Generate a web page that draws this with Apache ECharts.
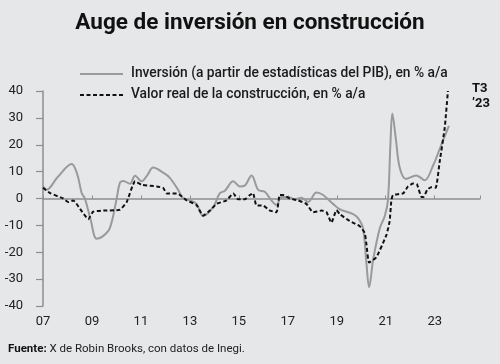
<!DOCTYPE html>
<html>
<head>
<meta charset="utf-8">
<script src="https://cdn.jsdelivr.net/npm/echarts@6/dist/echarts.min.js"></script>
<style>
html,body{margin:0;padding:0;background:#e6e7e9;}
#c{width:500px;height:364px;}
</style>
</head>
<body>
<div id="c"></div>
<script>
// Inversión (a partir de estadísticas del PIB), % a/a
const invYears = [2007.0,2007.15,2007.6,2008.17,2008.4,2008.58,2008.71,2008.95,2009.19,2009.45,2009.73,2010.01,2010.14,2010.28,2010.55,2010.76,2011.03,2011.25,2011.5,2011.91,2012.18,2012.52,2012.73,2013.0,2013.27,2013.54,2013.95,2014.22,2014.43,2014.77,2015.04,2015.24,2015.52,2015.79,2016.06,2016.33,2016.54,2016.74,2017.01,2017.29,2017.56,2017.83,2018.17,2018.44,2018.85,2019.12,2019.67,2019.87,2020.07,2020.21,2020.32,2020.49,2020.76,2020.96,2021.09,2021.19,2021.27,2021.41,2021.57,2021.82,2022.25,2022.59,2022.93,2023.27,2023.58];
const invValues = [4.5,3.3,8.0,12.8,9.0,2.0,0.0,-8.0,-15.0,-14.0,-11.0,0.0,5.8,6.5,5.5,8.5,6.4,8.5,11.5,9.6,7.7,3.2,0.0,-0.7,-2.0,-6.4,-3.2,1.9,2.9,6.4,4.5,4.8,8.6,3.2,2.5,-0.7,-2.4,0.6,0.6,-0.3,0.3,-1.3,2.2,1.3,-2.0,-4.0,-5.8,-7.3,-11.0,-24.0,-33.0,-22.5,-11.0,-6.5,-0.6,20.0,31.6,22.4,11.5,7.3,8.6,6.8,12.2,20.0,27.0];

// Valor real de la construcción, % a/a
const conYears = [2007.0,2007.29,2007.83,2008.03,2008.24,2008.51,2008.85,2009.05,2009.46,2010.14,2010.42,2010.76,2011.03,2011.64,2011.91,2012.05,2012.46,2012.59,2012.87,2013.27,2013.54,2013.82,2014.09,2014.5,2014.77,2014.97,2015.24,2015.45,2015.58,2015.72,2015.99,2016.27,2016.54,2016.67,2016.81,2017.08,2017.42,2017.76,2018.03,2018.38,2018.58,2018.78,2018.99,2019.12,2019.53,2019.94,2020.14,2020.21,2020.32,2020.62,2021.03,2021.16,2021.23,2021.3,2021.71,2021.91,2022.12,2022.27,2022.46,2022.55,2022.69,2022.86,2023.04,2023.2,2023.41,2023.54];
const conValues = [4.0,2.0,0.0,-1.3,-0.7,-3.8,-7.7,-4.9,-4.5,-4.2,-1.3,6.4,5.1,4.5,3.9,1.9,1.9,1.3,-0.7,-2.4,-6.4,-4.5,-2.0,-0.7,1.9,-0.3,-0.3,1.3,2.0,-2.6,-2.6,-4.5,-5.1,1.3,1.3,0.0,-0.7,-2.0,-5.1,-4.5,-5.1,-9.0,-4.3,-5.8,-8.4,-10.3,-12.8,-17.0,-23.8,-21.8,-13.5,-8.4,-0.6,1.3,1.9,4.5,5.6,5.4,0.6,0.6,3.2,4.2,4.0,13.5,26.4,40.0];

const xTicks = [2007,2009,2011,2013,2015,2017,2019,2021,2023];
const yTicks = [-40,-30,-20,-10,0,10,20,30,40];

const FONT = 'Roboto';
const invData = invYears.map((y,i)=>[y,invValues[i]]);
const conData = conYears.map((y,i)=>[y,conValues[i]]);

const chart = echarts.init(document.getElementById('c'), null, {renderer:'canvas'});
chart.setOption({
  backgroundColor:'#e6e7e9',
  animation:false,
  textStyle:{fontFamily:FONT},
  title:{
    text:'Auge de inversión en construcción',
    left:'center', top:7,
    textStyle:{fontFamily:FONT,fontSize:22.5,fontWeight:'bold',color:'#111'}
  },
  legend:{
    orient:'vertical', left:74, top:62,
    itemWidth:43, itemHeight:14, itemGap:7,
    itemStyle:{opacity:0},
    textStyle:{fontFamily:FONT,fontSize:13.8,fontWeight:500,color:'#1a1a1a',padding:[0,0,0,3]},
    data:[
      'Inversión (a partir de estadísticas del PIB), en % a/a',
      'Valor real de la construcción, en % a/a'
    ]
  },
  grid:{left:43,right:20,top:91,bottom:58},
  xAxis:[{
    type:'value', min:2007, max:2024.85, interval:2,
    axisLine:{show:false,onZero:false},
    axisTick:{show:false},
    splitLine:{show:false},
    axisLabel:{fontFamily:FONT,fontSize:13,color:'#222',margin:9,
      formatter:v=> xTicks.indexOf(v)>=0 ? String(v).slice(2) : ''}
  },{
    type:'value', min:2007, max:2024.85, interval:2,
    axisLine:{show:true,onZero:true,lineStyle:{color:'#8e8e8e',width:1.5}},
    axisTick:{show:true,length:3,inside:false,lineStyle:{color:'#8e8e8e'}},
    axisLabel:{show:false},
    splitLine:{show:false}
  }],
  yAxis:{
    type:'value', min:-40, max:40, interval:10,
    axisLine:{show:true,lineStyle:{color:'#8e8e8e',width:1.5}},
    axisTick:{show:true,length:7,lineStyle:{color:'#8e8e8e',width:1.2}},
    splitLine:{show:false},
    axisLabel:{fontFamily:FONT,fontSize:13,color:'#222',margin:20,
      formatter:v=> yTicks.indexOf(v)>=0 ? String(v) : ''}
  },
  series:[{
    name:'Inversión (a partir de estadísticas del PIB), en % a/a',
    type:'line', data:invData, smooth:0.35, symbol:'none',
    lineStyle:{color:'#9a9a9a',width:2},
    itemStyle:{color:'#9a9a9a'},
    z:2
  },{
    name:'Valor real de la construcción, en % a/a',
    type:'line', data:conData, smooth:0.15, symbol:'none',
    lineStyle:{color:'#111',width:2,type:[4,2.5]},
    itemStyle:{color:'#111'},
    z:3
  }],
  graphic:[{
    type:'text', left:472, top:81,
    style:{text:'T3\n\u201923',fontFamily:FONT,fontSize:13,fontWeight:'bold',fill:'#111',lineHeight:15,align:'center'}
  },{
    type:'text', left:8, top:343,
    style:{
      text:'{b|Fuente:} X de Robin Brooks, con datos de Inegi.',
      fontFamily:FONT,fontSize:11.5,fill:'#222',
      rich:{b:{fontFamily:FONT,fontSize:11.5,fontWeight:'bold',fill:'#111'}}
    }
  }]
});
</script>
</body>
</html>
